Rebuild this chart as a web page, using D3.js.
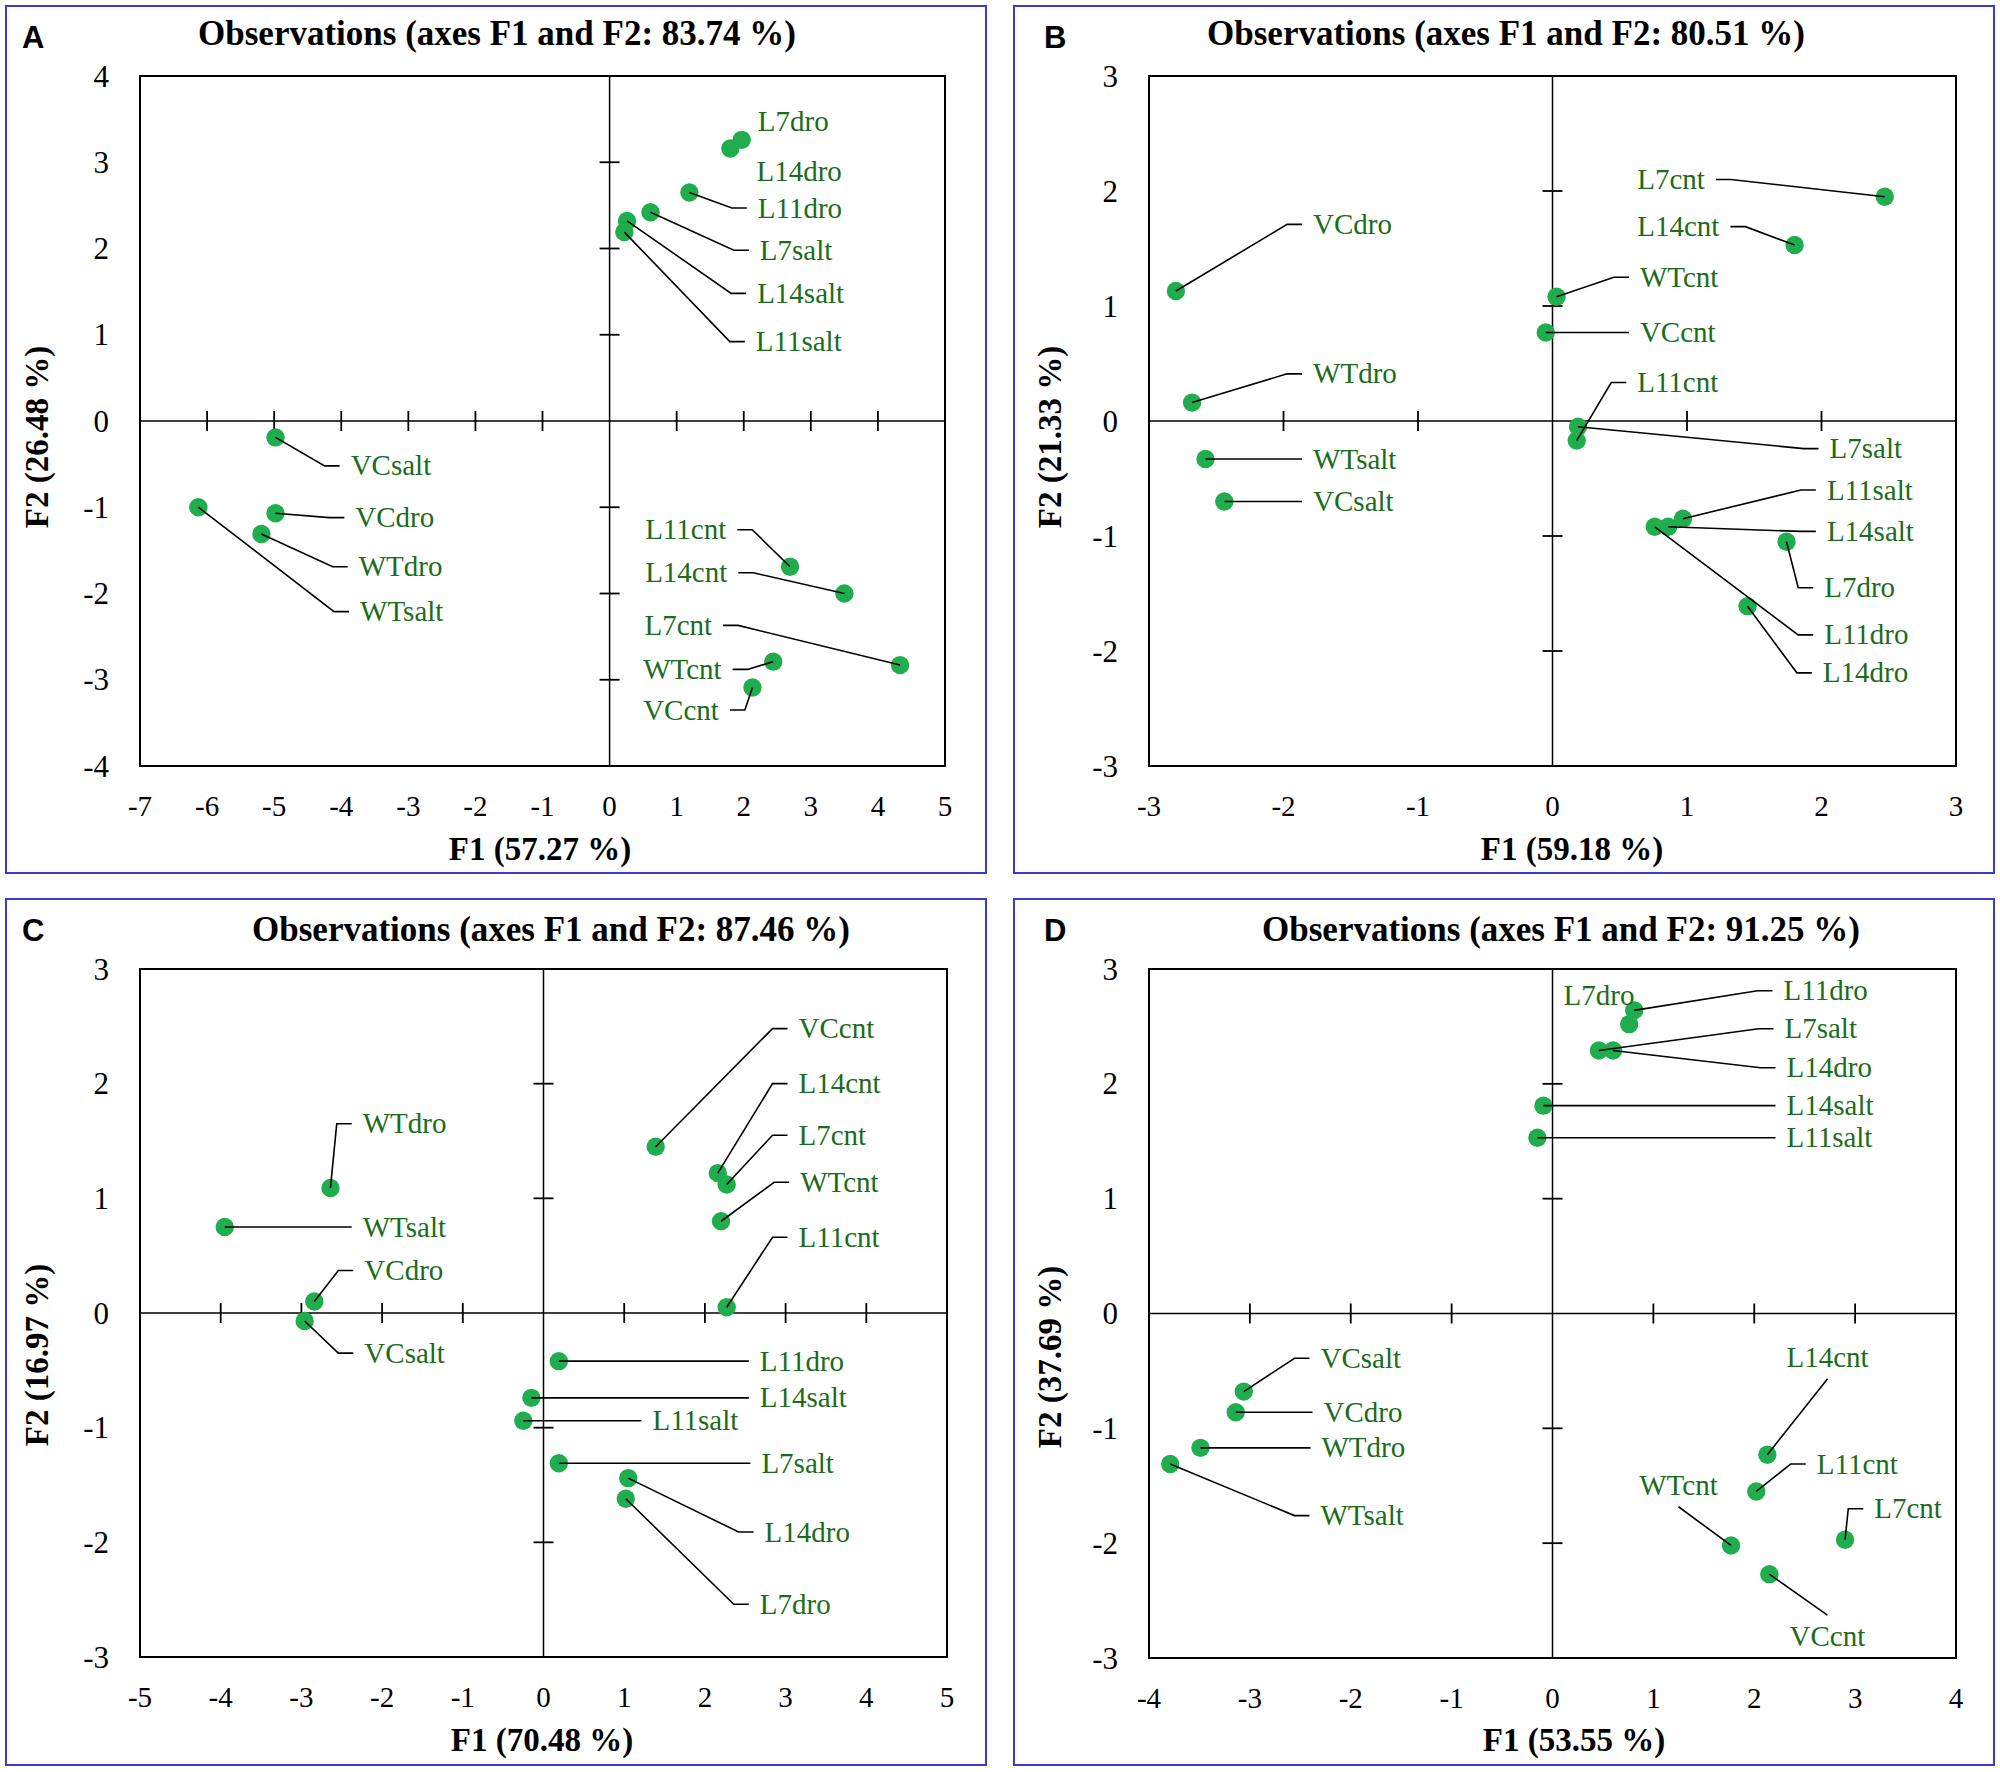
<!DOCTYPE html>
<html>
<head>
<meta charset="utf-8">
<script src="https://cdn.jsdelivr.net/npm/d3@7"></script>
<style>
  body { margin: 0; background: #fff; }
</style>
</head>
<body>
<div id="chart"></div>
<script>
// ---- data ----
const namesA = ['L7dro', 'L14dro', 'L11dro', 'L7salt', 'L14salt', 'L11salt', 'VCsalt', 'VCdro', 'WTdro', 'WTsalt', 'L11cnt', 'L14cnt', 'L7cnt', 'WTcnt', 'VCcnt'];
const f1A = [1.97, 1.80, 1.19, 0.61, 0.26, 0.22, -4.98, -4.98, -5.19, -6.13, 2.69, 3.50, 4.33, 2.44, 2.13];
const f2A = [3.26, 3.16, 2.65, 2.42, 2.32, 2.19, -0.19, -1.07, -1.31, -1.00, -1.69, -2.00, -2.83, -2.79, -3.09];

const namesB = ['L7cnt', 'L14cnt', 'WTcnt', 'VCcnt', 'L11cnt', 'L7salt', 'L11salt', 'L14salt', 'L7dro', 'L11dro', 'L14dro', 'VCdro', 'WTdro', 'WTsalt', 'VCsalt'];
const f1B = [2.47, 1.80, 0.03, -0.05, 0.18, 0.19, 0.97, 0.86, 1.74, 0.76, 1.45, -2.80, -2.68, -2.58, -2.44];
const f2B = [1.95, 1.53, 1.08, 0.77, -0.17, -0.05, -0.85, -0.92, -1.05, -0.92, -1.61, 1.13, 0.16, -0.33, -0.70];

const namesC = ['VCcnt', 'L14cnt', 'L7cnt', 'WTcnt', 'L11cnt', 'WTdro', 'WTsalt', 'VCdro', 'VCsalt', 'L11dro', 'L14salt', 'L11salt', 'L7salt', 'L14dro', 'L7dro'];
const f1C = [1.39, 2.16, 2.27, 2.20, 2.27, -2.64, -3.95, -2.84, -2.96, 0.19, -0.15, -0.25, 0.19, 1.05, 1.02];
const f2C = [1.45, 1.22, 1.12, 0.80, 0.05, 1.09, 0.75, 0.10, -0.07, -0.42, -0.74, -0.94, -1.31, -1.44, -1.62];

const namesD = ['L11dro', 'L7dro', 'L7salt', 'L14dro', 'L14salt', 'L11salt', 'VCsalt', 'VCdro', 'WTdro', 'WTsalt', 'L14cnt', 'L11cnt', 'L7cnt', 'WTcnt', 'VCcnt'];
const f1D = [0.81, 0.76, 0.46, 0.60, -0.09, -0.15, -3.06, -3.14, -3.49, -3.79, 2.13, 2.02, 2.90, 1.77, 2.15];
const f2D = [2.64, 2.52, 2.29, 2.29, 1.81, 1.53, -0.68, -0.86, -1.17, -1.31, -1.23, -1.55, -1.97, -2.02, -2.27];

const titles = ['Observations (axes F1 and F2: 83.74 %)', 'Observations (axes F1 and F2: 80.51 %)',
                'Observations (axes F1 and F2: 87.46 %)', 'Observations (axes F1 and F2: 91.25 %)'];
const xTitles = ['F1 (57.27 %)', 'F1 (59.18 %)', 'F1 (70.48 %)', 'F1 (53.55 %)'];
const yTitles = ['F2 (26.48 %)', 'F2 (21.33 %)', 'F2 (16.97 %)', 'F2 (37.69 %)'];
const letters = ['A', 'B', 'C', 'D'];
const xDomains = [[-7, 5], [-3, 3], [-5, 5], [-4, 4]];
const yDomains = [[-4, 4], [-3, 3], [-3, 3], [-3, 3]];

// ---- label placement (left edge / vertical centre, in axis units) ----
const labXA = [2.21, 2.19, 2.21, 2.24, 2.20, 2.18, -3.86, -3.79, -3.74, -3.72, 0.53, 0.53, 0.52, 0.50, 0.50];
const labYA = [3.47, 2.89, 2.47, 1.98, 1.48, 0.92, -0.52, -1.12, -1.69, -2.21, -1.26, -1.76, -2.37, -2.88, -3.35];
const leadA = ['none', 'none', 'h', 'h', 'h', 'h', 'h', 'h', 'h', 'h', 'h', 'h', 'h', 'h', 'h'];

const labXB = [0.63, 0.63, 0.65, 0.65, 0.63, 2.06, 2.04, 2.04, 2.02, 2.02, 2.01, -1.78, -1.78, -1.78, -1.78];
const labYB = [2.10, 1.69, 1.25, 0.77, 0.335, -0.24, -0.60, -0.96, -1.45, -1.86, -2.19, 1.71, 0.41, -0.33, -0.70];
const leadB = ['h', 'h', 'h', 'h', 'h', 'h', 'h', 'h', 'h', 'h', 'h', 'h', 'h', 'h', 'h'];

const labXC = [3.16, 3.16, 3.16, 3.18, 3.16, -2.24, -2.24, -2.22, -2.22, 2.68, 2.68, 1.35, 2.70, 2.74, 2.68];
const labYC = [2.48, 2.00, 1.55, 1.14, 0.66, 1.65, 0.75, 0.37, -0.35, -0.42, -0.74, -0.94, -1.31, -1.91, -2.54];
const leadC = ['h', 'h', 'h', 'h', 'h', 'h', 'h', 'h', 'h', 'h', 'h', 'h', 'h', 'h', 'h'];

const labXD = [2.29, 0.11, 2.30, 2.32, 2.32, 2.32, -2.30, -2.27, -2.29, -2.30, 2.32, 2.62, 3.19, 0.86, 2.35];
const labYD = [2.81, 2.77, 2.48, 2.14, 1.81, 1.53, -0.39, -0.86, -1.17, -1.76, -0.385, -1.31, -1.70, -1.50, -2.81];
const leadD = ['h', 'none', 'h', 'h', 'h', 'h', 'h', 'h', 'h', 'h', 'v', 'h', 'h', 'v', 'v'];

// ---- panel boxes in page pixels ----
const panels = [
    { border: [6, 6, 986, 873], plot: [140, 76, 945, 766], title: [497, 45], letter: [22, 48], xt: [540, 860], yt: [48, 437] },
    { border: [1014, 6, 1994, 873], plot: [1149, 76, 1956, 766], title: [1506, 45], letter: [1044, 48], xt: [1572, 860], yt: [1061, 437] },
    { border: [6, 899, 986, 1765], plot: [140, 969, 947, 1657], title: [551, 941], letter: [22, 941], xt: [542, 1751], yt: [48, 1355] },
    { border: [1014, 899, 1994, 1765], plot: [1149, 969, 1956, 1658], title: [1561, 941], letter: [1044, 941], xt: [1574, 1751], yt: [1061, 1357] }
];

const series = [
    { names: namesA, f1: f1A, f2: f2A, lx: labXA, ly: labYA, lead: leadA },
    { names: namesB, f1: f1B, f2: f2B, lx: labXB, ly: labYB, lead: leadB },
    { names: namesC, f1: f1C, f2: f2C, lx: labXC, ly: labYC, lead: leadC },
    { names: namesD, f1: f1D, f2: f2D, lx: labXD, ly: labYD, lead: leadD }
];

const serif = '"Liberation Serif", "Times New Roman", serif';
const dotColor = '#20ad4e';
const labelColor = '#1b6c1b';

const svg = d3.select('#chart').append('svg')
    .attr('width', 2000)
    .attr('height', 1772)
    .style('display', 'block');

function drawPanel(i) {
    const p = panels[i];
    const s = series[i];
    const g = svg.append('g');

    g.append('rect')
        .attr('x', p.border[0]).attr('y', p.border[1])
        .attr('width', p.border[2] - p.border[0]).attr('height', p.border[3] - p.border[1])
        .attr('fill', 'none').attr('stroke', '#3b3bd4').attr('stroke-width', 2);

    const x = d3.scaleLinear().domain(xDomains[i]).range([p.plot[0], p.plot[2]]);
    const y = d3.scaleLinear().domain(yDomains[i]).range([p.plot[3], p.plot[1]]);
    const xTicks = d3.range(xDomains[i][0], xDomains[i][1] + 1);
    const yTicks = d3.range(yDomains[i][0], yDomains[i][1] + 1);

    // frame
    g.append('rect')
        .attr('x', p.plot[0]).attr('y', p.plot[1])
        .attr('width', p.plot[2] - p.plot[0]).attr('height', p.plot[3] - p.plot[1])
        .attr('fill', 'none').attr('stroke', '#000').attr('stroke-width', 2);

    // zero axes
    g.append('line')
        .attr('x1', p.plot[0]).attr('x2', p.plot[2]).attr('y1', y(0)).attr('y2', y(0))
        .attr('stroke', '#000').attr('stroke-width', 1.5);
    g.append('line')
        .attr('x1', x(0)).attr('x2', x(0)).attr('y1', p.plot[1]).attr('y2', p.plot[3])
        .attr('stroke', '#000').attr('stroke-width', 1.5);

    const inner = t => t !== 0;
    g.selectAll('.xtick')
        .data(xTicks.filter(t => inner(t) && t > xDomains[i][0] && t < xDomains[i][1]))
        .enter().append('line')
        .attr('x1', d => x(d)).attr('x2', d => x(d))
        .attr('y1', y(0) - 10).attr('y2', y(0) + 10)
        .attr('stroke', '#000').attr('stroke-width', 1.8);
    g.selectAll('.ytick')
        .data(yTicks.filter(t => inner(t) && t > yDomains[i][0] && t < yDomains[i][1]))
        .enter().append('line')
        .attr('y1', d => y(d)).attr('y2', d => y(d))
        .attr('x1', x(0) - 10).attr('x2', x(0) + 10)
        .attr('stroke', '#000').attr('stroke-width', 1.8);

    // tick labels
    g.selectAll('.xlab')
        .data(xTicks)
        .enter().append('text')
        .attr('x', d => x(d)).attr('y', p.plot[3] + 50)
        .attr('text-anchor', 'middle')
        .style('font-family', serif).style('font-size', '29px')
        .text(d => String(d));
    g.selectAll('.ylab')
        .data(yTicks)
        .enter().append('text')
        .attr('x', p.plot[0] - 31).attr('y', d => y(d))
        .attr('dy', '0.34em')
        .attr('text-anchor', 'end')
        .style('font-family', serif).style('font-size', '31px')
        .text(d => String(d));

    // titles
    g.append('text')
        .attr('x', p.title[0]).attr('y', p.title[1])
        .attr('text-anchor', 'middle')
        .style('font-family', serif).style('font-size', '35px').style('font-weight', 'bold')
        .text(titles[i]);
    g.append('text')
        .attr('x', p.letter[0]).attr('y', p.letter[1])
        .style('font-family', '"Liberation Sans", Arial, sans-serif').style('font-size', '31px').style('font-weight', 'bold')
        .text(letters[i]);
    g.append('text')
        .attr('x', p.xt[0]).attr('y', p.xt[1])
        .attr('text-anchor', 'middle')
        .style('font-family', serif).style('font-size', '33px').style('font-weight', 'bold')
        .text(xTitles[i]);
    g.append('text')
        .attr('transform', `translate(${p.yt[0]},${p.yt[1]}) rotate(-90)`)
        .attr('text-anchor', 'middle')
        .style('font-family', serif).style('font-size', '33px').style('font-weight', 'bold')
        .text(yTitles[i]);

    // labels first (to measure), leaders, then dots
    const rows = s.names.map((n, k) => ({ name: n, f1: s.f1[k], f2: s.f2[k], lx: s.lx[k], ly: s.ly[k], lead: s.lead[k] }));
    const dotG = g.append('g');
    const leaderG = g.append('g');
    const labelG = g.append('g');

    const labels = labelG.selectAll('text')
        .data(rows)
        .enter().append('text')
        .attr('x', d => x(d.lx)).attr('y', d => y(d.ly))
        .attr('dy', '0.33em')
        .attr('fill', labelColor)
        .style('font-family', serif).style('font-size', '29px')
        .text(d => d.name);

    labels.each(function (d) {
        const w = this.getComputedTextLength();
        const left = x(d.lx), right = left + w, cy = y(d.ly);
        const px = x(d.f1), py = y(d.f2);
        let path = null;
        if (d.lead === 'h') {
            if (px < left) {
                const end = left - 11, elbow = end - 15;
                path = `M${px},${py}L${elbow},${cy}L${end},${cy}`;
            } else {
                const end = right + 11, elbow = end + 15;
                path = `M${px},${py}L${elbow},${cy}L${end},${cy}`;
            }
        } else if (d.lead === 'v') {
            const cx = left + w / 2;
            const sy = py > cy ? cy + 21 : cy - 21;
            path = `M${px},${py}L${cx},${sy}`;
        }
        if (path) {
            leaderG.append('path')
                .attr('d', path)
                .attr('fill', 'none')
                .attr('stroke', '#000')
                .attr('stroke-width', 1.6);
        }
    });

    dotG.selectAll('circle')
        .data(rows)
        .enter().append('circle')
        .attr('cx', d => x(d.f1))
        .attr('cy', d => y(d.f2))
        .attr('r', 9.2)
        .attr('fill', dotColor);
}

for (let i = 0; i < 4; i++) {
    drawPanel(i);
}
</script>
</body>
</html>
